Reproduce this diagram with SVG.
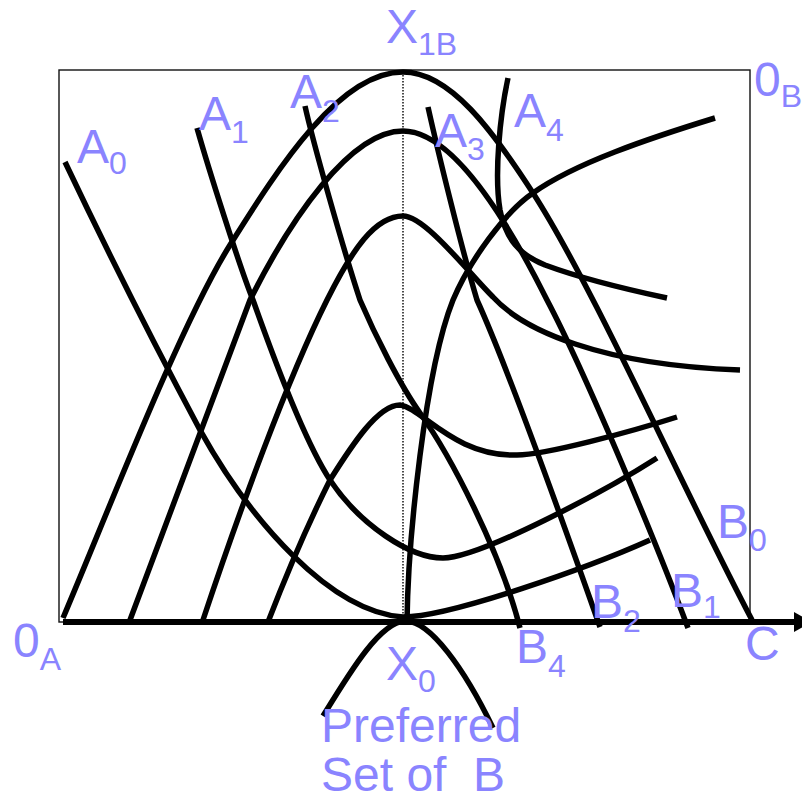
<svg xmlns="http://www.w3.org/2000/svg" width="802" height="802" viewBox="0 0 802 802">
<style>
.c{fill:none;stroke:#000;stroke-width:5.5;stroke-linecap:butt;stroke-linejoin:round}
.t{font-family:"Liberation Sans",Arial,sans-serif;font-size:48px;fill:#8A84FF}
.s{font-size:32px}
</style>
<rect width="802" height="802" fill="#fff"/>
<g id="frame">
<rect x="59" y="70" width="691" height="552" fill="none" stroke="#111" stroke-width="1.4"/>
<line x1="403" y1="72" x2="403" y2="620" stroke="#000" stroke-width="1.4" stroke-dasharray="1.5,1.5"/>
<line x1="63" y1="622" x2="798" y2="622" stroke="#000" stroke-width="6"/>
<polygon points="794,612 812,622 794,632" fill="#000"/>
</g>
<g id="connectors">
<g id="B0"><path class="c" d="M63,618 C108,512 180,325 230,245 C280,165 340,72 403,72 C450,72 493,131 533,193 C593,286 682,487 752,620"/></g>
<g id="B1"><path class="c" d="M130,620 C170,512 210,404 250,300 C290,220 350,131 403,131 C450,131 502,210 547,300 C587,376 658,547 688,628"/></g>
<g id="B3curve"><path class="c" d="M203,620 C238,515 287,380 327,300 C352,250 375,216 403,216 C425,216 468,272 493,297 C523,330 600,365 740,370"/></g>
<g id="B4curve"><path class="c" d="M268,622 C285,578 310,520 330,480 C352,445 378,405 400,405 C422,408 455,457 517,455 C545,455 630,432 677,417"/></g>
<g id="A0"><path class="c" d="M65,162 C110,257 160,355 200,430 C250,520 330,612 403,617 C450,617 590,567 650,540"/></g>
<g id="A1"><path class="c" d="M197,128 C208,167 240,268 253,300 C270,348 305,442 330,480 C360,525 410,558 443,558 C480,558 607,490 657,458"/></g>
<g id="A2"><path class="c" d="M305,106 C313,142 342,245 360,300 C375,335 400,385 420,413 C450,455 500,550 520,628"/></g>
<g id="A3"><path class="c" d="M428,107 C438,152 462,250 477,300 C512,377 570,542 600,627"/></g>
<g id="A4"><path class="c" d="M508,78 C500,115 494,175 500,210 C506,240 520,255 545,265 C580,278 620,288 667,298"/></g>
<g id="X0curve"><path class="c" d="M407,622 C408,540 425,370 453,300 C470,260 505,212 533,193 C575,163 650,138 715,118"/></g>
<g id="preferred"><path class="c" d="M323,716 C350,672 380,622 405,621 C430,620 465,670 493,728"/></g>
</g>
<g id="labels" class="t">
<text x="386" y="43">X<tspan class="s" dy="12">1B</tspan></text>
<text x="77" y="163">A<tspan class="s" dy="11">0</tspan></text>
<text x="199" y="130">A<tspan class="s" dy="13">1</tspan></text>
<text x="290" y="108">A<tspan class="s" dy="14">2</tspan></text>
<text x="435" y="147">A<tspan class="s" dy="13">3</tspan></text>
<text x="514" y="127">A<tspan class="s" dy="14">4</tspan></text>
<text x="754" y="96">0<tspan class="s" dy="11">B</tspan></text>
<text x="13" y="657">0<tspan class="s" dy="13">A</tspan></text>
<text x="386" y="680">X<tspan class="s" dy="12">0</tspan></text>
<text x="516" y="663">B<tspan class="s" dy="14">4</tspan></text>
<text x="591" y="618">B<tspan class="s" dy="14">2</tspan></text>
<text x="671" y="607">B<tspan class="s" dy="11">1</tspan></text>
<text x="717" y="538">B<tspan class="s" dy="13">0</tspan></text>
<text x="745" y="660">C</text>
<text x="321" y="742">Preferred</text>
<text x="321" y="791" style="white-space:pre" xml:space="preserve">Set of  B</text>
</g>
</svg>
